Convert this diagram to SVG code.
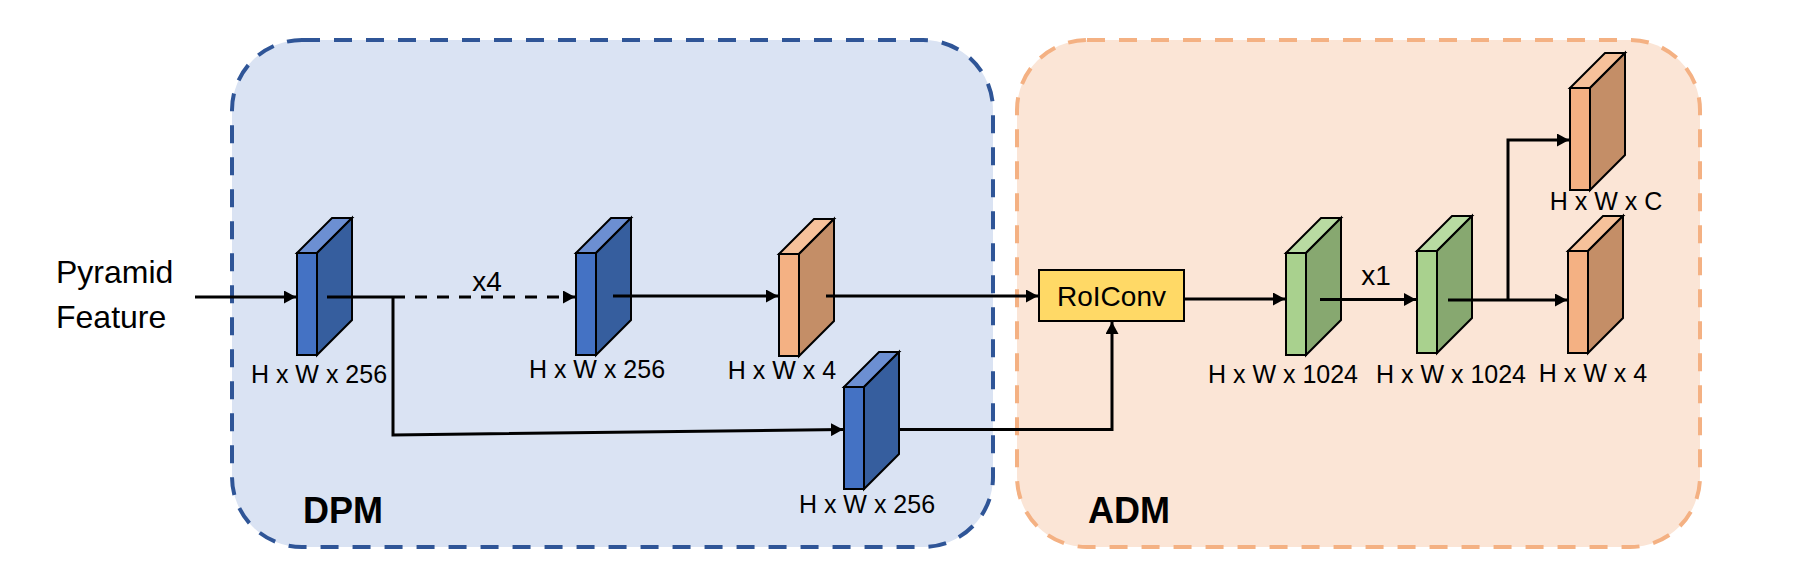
<svg xmlns="http://www.w3.org/2000/svg" width="1816" height="575" viewBox="0 0 1816 575">
<style>
text{font-family:"Liberation Sans",Arial,sans-serif;fill:#000}
.lbl{font-size:25px;text-anchor:middle}
.big{font-size:32px}
.rep{font-size:28px}
.title{font-size:36px;font-weight:bold}
.blk{stroke:#000;stroke-width:2;stroke-linejoin:miter}
.con{fill:none;stroke:#000;stroke-width:3}
</style>
<defs>
<marker id="ah" markerUnits="userSpaceOnUse" markerWidth="13" markerHeight="13" refX="12" refY="6.5" orient="auto">
<path d="M0,0 L12,6.5 L0,13 Z" fill="#000"/>
</marker>
<g id="bBlue" class="blk">
<polygon points="0,0 35,-35 55,-35 20,0" fill="#6C8FD2"/>
<polygon points="20,0 55,-35 55,67 20,102" fill="#365E9E"/>
<rect x="0" y="0" width="20" height="102" fill="#4472C4"/>
</g>
<g id="bOrange" class="blk">
<polygon points="0,0 35,-35 55,-35 20,0" fill="#F6C19A"/>
<polygon points="20,0 55,-35 55,67 20,102" fill="#C48E67"/>
<rect x="0" y="0" width="20" height="102" fill="#F4B183"/>
</g>
<g id="bGreen" class="blk">
<polygon points="0,0 35,-35 55,-35 20,0" fill="#B8DBA2"/>
<polygon points="20,0 55,-35 55,67 20,102" fill="#87A870"/>
<rect x="0" y="0" width="20" height="102" fill="#A9D18E"/>
</g>
</defs>
<rect width="1816" height="575" fill="#fff"/>
<g id="dpm">
<rect x="232" y="40" width="761" height="507" rx="70" ry="70" fill="#DAE3F3" stroke="#2F5597" stroke-width="4" stroke-dasharray="18 14"/>
<text class="title" x="303" y="523">DPM</text>
</g>
<g id="adm">
<rect x="1017" y="40" width="683" height="507" rx="70" ry="70" fill="#FBE5D6" stroke="#F4B183" stroke-width="4" stroke-dasharray="18 14"/>
<text class="title" x="1088" y="523">ADM</text>
</g>
<g id="input">
<text class="big" x="56" y="283">Pyramid</text>
<text class="big" x="56" y="328">Feature</text>
</g>
<g id="block1"><use href="#bBlue" x="297" y="253"/><text class="lbl" x="319" y="383">H x W x 256</text></g>
<g id="block2"><use href="#bBlue" x="576" y="253"/><text class="lbl" x="597" y="378">H x W x 256</text></g>
<g id="block3"><use href="#bOrange" x="779" y="254"/><text class="lbl" x="782" y="379">H x W x 4</text></g>
<g id="block4"><use href="#bBlue" x="844" y="387"/><text class="lbl" x="867" y="513">H x W x 256</text></g>
<g id="roiconv">
<rect x="1039" y="270" width="145" height="51" fill="#FFD966" stroke="#000" stroke-width="2"/>
<text class="rep" x="1111.5" y="306" text-anchor="middle">RoIConv</text>
</g>
<g id="block5"><use href="#bGreen" x="1286" y="253"/><text class="lbl" x="1283" y="383">H x W x 1024</text></g>
<g id="block6"><use href="#bGreen" x="1417" y="251"/><text class="lbl" x="1451" y="383">H x W x 1024</text></g>
<g id="block7"><use href="#bOrange" x="1570" y="88"/><text class="lbl" x="1606" y="210">H x W x C</text></g>
<g id="block8"><use href="#bOrange" x="1568" y="251"/><text class="lbl" x="1593" y="382">H x W x 4</text></g>
<g id="connectors">
<line class="con" x1="195" y1="297" x2="296" y2="297" marker-end="url(#ah)"/>
<line class="con" x1="327" y1="297" x2="393" y2="297"/>
<line class="con" x1="393" y1="297" x2="575" y2="297" stroke-dasharray="12 10" marker-end="url(#ah)"/>
<text class="rep" x="487" y="291" text-anchor="middle">x4</text>
<line class="con" x1="613" y1="296" x2="778" y2="296" marker-end="url(#ah)"/>
<line class="con" x1="826" y1="296" x2="1038" y2="296" marker-end="url(#ah)"/>
<polyline class="con" points="393,297 393,435 843,429.5" marker-end="url(#ah)"/>
<polyline class="con" points="899,429.5 1112,429.5 1112,322" marker-end="url(#ah)"/>
<line class="con" x1="1184" y1="299" x2="1285" y2="299" marker-end="url(#ah)"/>
<line class="con" x1="1320" y1="299.5" x2="1416" y2="299.5" marker-end="url(#ah)"/>
<text class="rep" x="1376" y="285" text-anchor="middle">x1</text>
<line class="con" x1="1448" y1="300" x2="1567" y2="300" marker-end="url(#ah)"/>
<polyline class="con" points="1508,300 1508,140 1569,140" marker-end="url(#ah)"/>
</g>
</svg>
